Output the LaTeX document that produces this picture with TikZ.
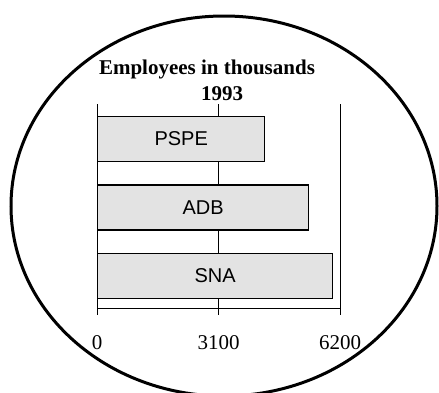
\documentclass[tikz,border=0pt]{standalone}
\usepackage{fontspec}
\setmainfont{Liberation Serif}
\setsansfont{Liberation Sans}
\usetikzlibrary{positioning}

\begin{document}
\begin{tikzpicture}[x=1pt,y=-1pt,
  bar/.style={draw,line width=1.4pt,fill=gray!22,anchor=west,minimum height=45pt,inner sep=0pt,font=\sffamily\fontsize{20}{20}\selectfont},
  ticklabel/.style={anchor=base,inner sep=0pt,font=\fontsize{21}{21}\selectfont},
  gridline/.style={line width=0.8pt}]
\useasboundingbox (0,0) rectangle (439,392);
\clip (0,0) rectangle (439,392);

% grid and axis
\foreach \gx/\gv in {97/0,218.5/3100,340/6200}{
  \draw [gridline] (\gx,104) -- (\gx,315);
  \node [ticklabel] (tick\gv) at (\gx,349) {\gv};
}
\draw [gridline] (97,308) -- (340,308);

% bars
\node [bar,minimum width=167pt] (pspe) at (97,139) {PSPE};
\node [bar,minimum width=211pt] (adb) at (97,207.5) {ADB};
\node [bar,minimum width=235pt] (sna) at (97,276) {SNA};

% title
\node [anchor=base,inner sep=0pt,font=\bfseries\fontsize{21}{21}\selectfont] (title) at (207,74) {Employees in thousands};
\node [anchor=base,inner sep=0pt,font=\bfseries\fontsize{21}{21}\selectfont] (year) at (222,100) {1993};

% frame
\draw [line width=3pt] (224,206) ellipse [x radius=213, y radius=190];

\end{tikzpicture}
\end{document}
